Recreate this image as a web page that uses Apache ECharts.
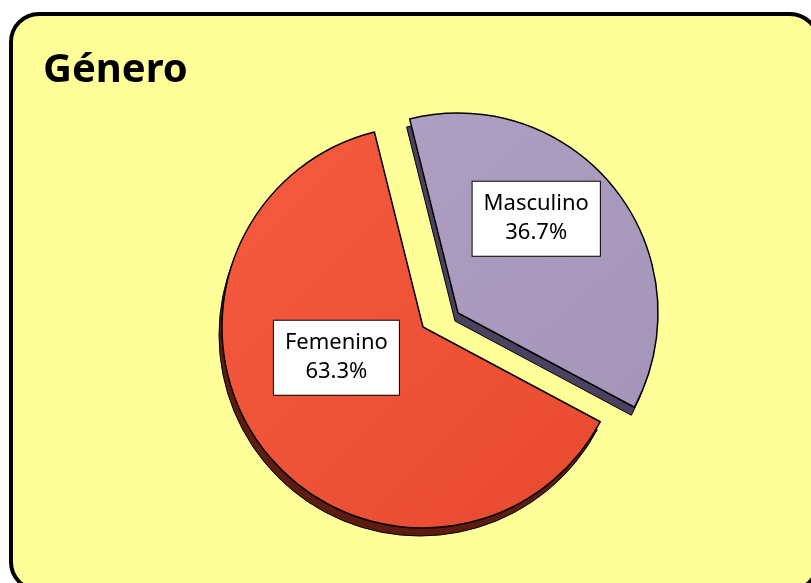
<!DOCTYPE html>
<html>
<head>
<meta charset="utf-8">
<script src="https://cdn.jsdelivr.net/npm/echarts@6/dist/echarts.min.js"></script>
<style>
  html, body { margin: 0; padding: 0; background: #fff; }
  #chart { width: 811px; height: 583px; }
</style>
</head>
<body>
<div id="chart"></div>
<script>
// datos del gráfico
const categories = ['Masculino', 'Femenino'];
const values = [36.7, 63.3];

const topColors = [
  new echarts.graphic.LinearGradient(0, 0, 1, 1, [
    { offset: 0, color: '#AD9FC2' }, { offset: 1, color: '#A595B8' }
  ]),
  new echarts.graphic.LinearGradient(0, 0, 1, 1, [
    { offset: 0, color: '#F55B40' }, { offset: 1, color: '#E84A30' }
  ])
];
const sideColors = ['#4B4260', '#5E1C10'];
// centro de cada porción (Masculino separada)
const centers = [[458, 313], [423, 327]];
const radii = [200, 201];
const labelOffsets = [[-3, -31], [-5, -33]];

const chart = echarts.init(document.getElementById('chart'));

// una serie por porción: sólo la porción k es visible
function slice(k, side) {
  const c = side ? [centers[k][0] - 3, centers[k][1] + 8] : centers[k];
  return {
    type: 'pie',
    silent: side,
    z: side ? 1 : 2,
    center: c,
    radius: radii[k],
    startAngle: 104,
    clockwise: true,
    percentPrecision: 1,
    emphasis: { disabled: true },
    labelLine: { show: false },
    label: {
      show: !side,
      position: 'inside',
      formatter: '{b}\n{d}%',
      fontFamily: 'Noto Sans',
      fontSize: 22,
      lineHeight: 29,
      color: '#000',
      align: 'center',
      backgroundColor: '#fff',
      borderColor: '#000',
      borderWidth: 1,
      padding: [8, 11, 8, 11]
    },
    data: categories.map((name, i) => {
      const vis = i === k;
      return {
        name: name,
        value: values[i],
        itemStyle: vis
          ? { color: side ? sideColors[i] : topColors[i], borderColor: '#000', borderWidth: side ? 1 : 1.5 }
          : { color: 'rgba(0,0,0,0)', borderWidth: 0 },
        label: vis && !side ? { offset: labelOffsets[i] } : { show: false }
      };
    })
  };
}

const option = {
  backgroundColor: '#fff',
  animation: false,
  graphic: [{
    type: 'rect',
    z: -10,
    shape: { x: 11, y: 14, width: 807, height: 576, r: 28 },
    style: { fill: '#FFFF99', stroke: '#000', lineWidth: 4 }
  }],
  title: {
    text: 'Género',
    left: 38,
    top: 46,
    textStyle: { fontFamily: 'Noto Sans', fontWeight: 'bold', fontSize: 40, color: '#000' }
  },
  series: [slice(0, true), slice(1, true), slice(0, false), slice(1, false)]
};

chart.setOption(option);
</script>
</body>
</html>
